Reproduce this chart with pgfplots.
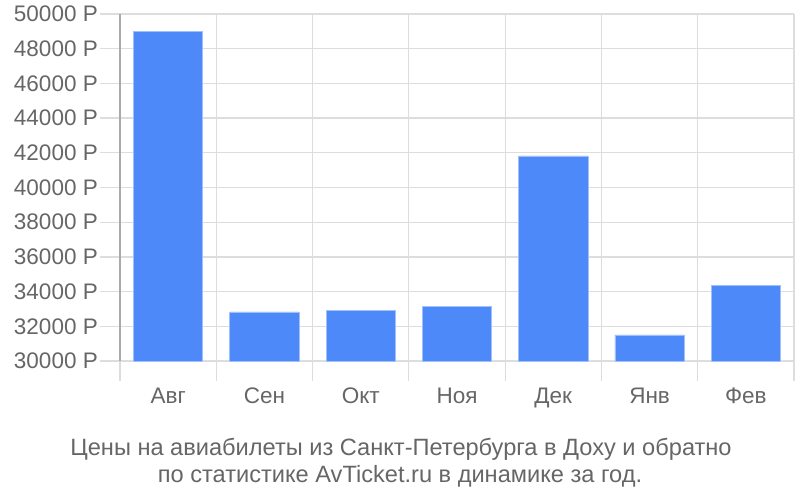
\documentclass[border=0pt]{standalone}
\usepackage{pgfplots}
\pgfplotsset{compat=1.18}
\usepackage{fontspec}
\setmainfont{Liberation Sans}
\definecolor{barblue}{HTML}{4D89F9}
\definecolor{baredge}{HTML}{9FC0FB}
\definecolor{gridgray}{HTML}{DDDDDD}
\definecolor{axisgray}{HTML}{AAAAAA}
\definecolor{textgray}{HTML}{666666}

\begin{document}
\begin{tikzpicture}[x=1bp,y=1bp]
\path[use as bounding box] (0,0) rectangle (800,-500);
\begin{axis}[
    at={(120bp,-14bp)}, anchor=north west,
    scale only axis, width=674bp, height=347bp,
    xmin=-0.5, xmax=6.5, ymin=30000, ymax=50000,
    scaled y ticks=false,
    axis x line*=bottom, axis y line*=left,
    x axis line style={draw=gridgray, line width=1.5bp},
    y axis line style={draw=axisgray, line width=1.5bp},
    tick align=outside,
    major tick length=20bp, minor tick length=20bp,
    xtick={0,...,6},
    xticklabels={Авг,Сен,Окт,Ноя,Дек,Янв,Фев},
    major x tick style={draw=none},
    minor xtick={-0.5,0.5,...,6.5},
    minor x tick style={draw=gridgray, line width=1.2bp},
    xminorgrids,
    minor grid style={draw=gridgray, line width=1.2bp},
    ytick={30000,32000,...,50000},
    yticklabels={30000 Р,32000 Р,34000 Р,36000 Р,38000 Р,40000 Р,42000 Р,44000 Р,46000 Р,48000 Р,50000 Р},
    major y tick style={draw=gridgray, line width=1.2bp},
    ymajorgrids,
    major grid style={draw=gridgray, line width=1.2bp},
    ticklabel style={font=\fontsize{22.5bp}{24bp}\selectfont, text=textgray},
    yticklabel style={anchor=east, inner sep=2bp},
    xticklabel style={anchor=north, inner sep=0pt, yshift=-7bp},
]
\addplot[ybar, bar width=0.72, fill=barblue, draw=baredge, line width=0.8bp] coordinates {
    (0, 49020)
    (1, 32830)
    (2, 32890)
    (3, 33120)
    (4, 41820)
    (5, 31500)
    (6, 34330)
};
\end{axis}
\node[text=textgray, anchor=base, font=\fontsize{23.6bp}{25bp}\selectfont] at (401,-455) {Цены на авиабилеты из Санкт-Петербурга в Доху и обратно};
\node[text=textgray, anchor=base, font=\fontsize{23.6bp}{25bp}\selectfont] at (400,-482) {по статистике AvTicket.ru в динамике за год.};
\end{tikzpicture}
\end{document}
